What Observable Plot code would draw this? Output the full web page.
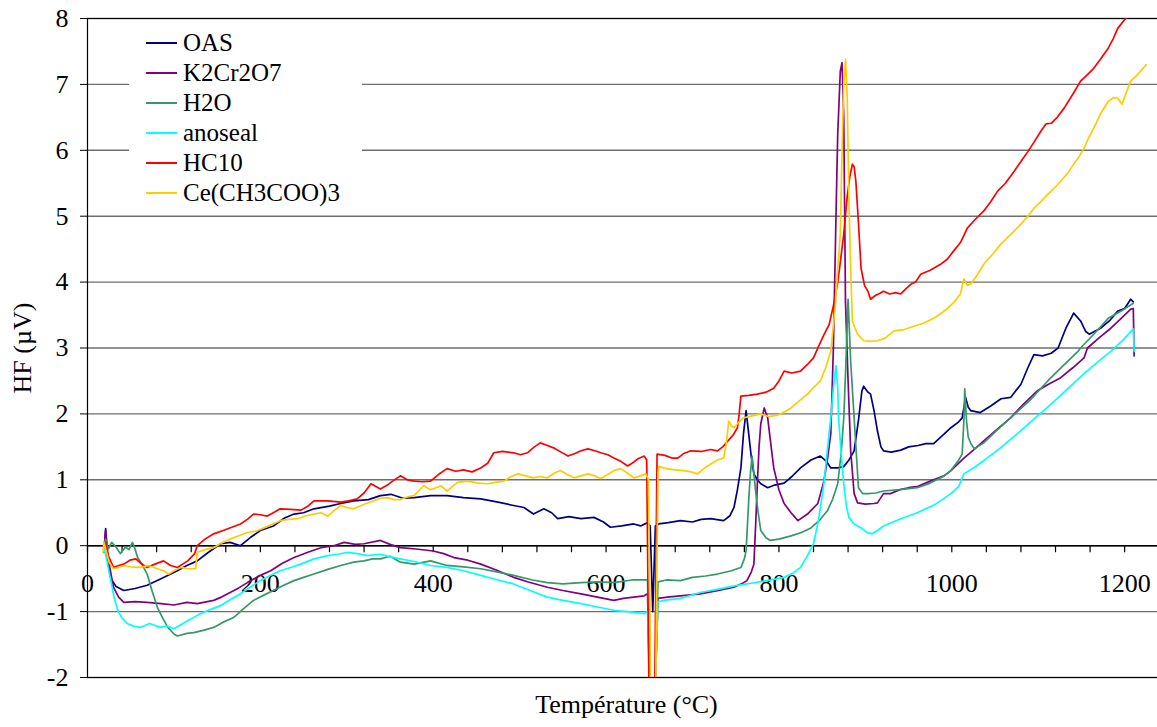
<!DOCTYPE html>
<html><head><meta charset="utf-8">
<script src="https://cdn.jsdelivr.net/npm/d3@7"></script>
<script src="https://cdn.jsdelivr.net/npm/@observablehq/plot@0.6"></script>
<style>
body{margin:0;background:#fff;}
#wrap{position:relative;width:1157px;height:727px;font-family:"Liberation Serif","Times New Roman",serif;}
#wrap svg text{font-family:"Liberation Serif","Times New Roman",serif;}
#legend{position:absolute;left:129px;top:27px;width:233px;height:183px;background:#fff;}
.item{position:absolute;left:17px;height:30px;display:flex;align-items:center;font-size:25px;color:#000;white-space:nowrap;}
.sw{width:31px;height:0;border-top:2px solid;margin-right:6px;}
</style></head><body><div id="wrap"></div>
<script>
const seriesNames = ["OAS", "K2Cr2O7", "H2O", "anoseal", "HC10", "Ce(CH3COO)3"];
const seriesColors = ["#000080", "#800080", "#339966", "#00FFFF", "#FF0000", "#FFCC00"];
const yTicks = [-2, -1, 0, 1, 2, 3, 4, 5, 6, 7, 8];
const xLabelTicks = [0, 200, 400, 600, 800, 1000, 1200];
const xMinorTicks = [0,40,80,120,160,200,240,280,320,360,400,440,480,520,560,600,640,680,720,760,800,840,880,920,960,1000,1040,1080,1120,1160,1200];
const xTitle = "Température (°C)";
const yTitle = "HF (µV)";

const oasData = [[19,-0.1],[21,0.26],[23,-0.2],[27,-0.5],[33,-0.62],[42,-0.68],[55,-0.65],[69,-0.6],[85,-0.5],[104,-0.38],[115,-0.3],[127,-0.23],[140,-0.1],[154,0.03],[165,0.05],[177,0.0],[188,0.12],[200,0.23],[215,0.3],[228,0.42],[239,0.48],[250,0.5],[262,0.56],[280,0.6],[293,0.64],[308,0.68],[325,0.7],[339,0.76],[351,0.78],[365,0.72],[378,0.73],[397,0.76],[416,0.76],[435,0.73],[455,0.71],[475,0.66],[493,0.61],[505,0.58],[516,0.48],[528,0.56],[537,0.5],[544,0.41],[557,0.44],[571,0.41],[586,0.43],[597,0.36],[605,0.28],[618,0.3],[632,0.33],[640,0.3],[648,0.35],[651,0.3],[654,-1.0],[657,0.3],[661,0.33],[672,0.35],[686,0.38],[700,0.36],[710,0.4],[721,0.41],[736,0.38],[743,0.45],[748,0.58],[752,0.85],[756,1.18],[759,1.7],[762,2.05],[765,1.7],[768,1.35],[771,1.09],[775,1.0],[779,0.94],[787,0.88],[795,0.92],[806,0.95],[815,1.05],[825,1.18],[837,1.3],[848,1.36],[855,1.28],[860,1.18],[868,1.18],[875,1.2],[881,1.3],[887,1.44],[892,1.9],[896,2.35],[898,2.42],[903,2.33],[906,2.3],[910,2.05],[914,1.74],[918,1.5],[921,1.44],[930,1.42],[941,1.45],[950,1.5],[961,1.52],[970,1.55],[979,1.55],[990,1.68],[999,1.79],[1008,1.88],[1012,1.94],[1016,2.25],[1019,2.1],[1022,2.05],[1033,2.02],[1045,2.12],[1057,2.23],[1068,2.25],[1080,2.45],[1088,2.7],[1095,2.9],[1105,2.88],[1115,2.92],[1123,3.0],[1132,3.3],[1141,3.53],[1149,3.41],[1155,3.25],[1159,3.21],[1172,3.3],[1183,3.42],[1192,3.56],[1200,3.6],[1207,3.74],[1210,3.7]];

const k2cr2o7Data = [[19,-0.1],[21,0.23],[24,-0.2],[30,-0.63],[36,-0.78],[42,-0.86],[55,-0.85],[69,-0.86],[85,-0.88],[100,-0.9],[115,-0.86],[127,-0.88],[146,-0.83],[155,-0.78],[165,-0.71],[175,-0.64],[185,-0.56],[200,-0.45],[212,-0.38],[225,-0.27],[239,-0.18],[255,-0.1],[270,-0.03],[285,0.0],[297,0.05],[310,0.02],[320,0.03],[339,0.08],[350,0.02],[362,-0.03],[380,-0.05],[400,-0.08],[412,-0.12],[424,-0.18],[440,-0.22],[455,-0.28],[475,-0.38],[493,-0.48],[510,-0.55],[532,-0.63],[550,-0.68],[571,-0.73],[590,-0.78],[609,-0.83],[620,-0.8],[632,-0.78],[644,-0.76],[648,-0.73],[651,-2.6],[656,-2.6],[660,-0.8],[671,-0.78],[686,-0.76],[709,-0.73],[730,-0.68],[748,-0.63],[758,-0.57],[763,-0.53],[768,-0.4],[771,-0.28],[773,0.3],[775,0.94],[777,1.5],[779,1.85],[783,2.09],[787,1.94],[791,1.5],[794,1.18],[800,0.85],[806,0.64],[814,0.5],[822,0.38],[833,0.48],[845,0.64],[852,0.98],[856,1.3],[860,1.7],[863,3.0],[866,5.0],[868,6.24],[871,7.2],[873,7.33],[875,6.5],[877,3.7],[880,2.5],[883,1.44],[887,0.79],[891,0.65],[900,0.63],[910,0.64],[914,0.65],[921,0.79],[929,0.79],[940,0.85],[950,0.88],[961,0.9],[975,0.98],[991,1.06],[999,1.14],[1014,1.33],[1025,1.45],[1037,1.59],[1052,1.76],[1068,1.94],[1083,2.15],[1099,2.35],[1112,2.45],[1126,2.55],[1140,2.7],[1153,2.85],[1157,3.0],[1170,3.15],[1184,3.3],[1196,3.45],[1207,3.59],[1210,3.6],[1211,2.88]];

const h2oData = [[19,0.03],[21,0.1],[24,-0.05],[28,0.05],[33,-0.02],[38,-0.12],[44,-0.02],[48,-0.06],[52,0.05],[55,-0.05],[58,-0.18],[63,-0.28],[69,-0.43],[75,-0.7],[81,-0.94],[87,-1.1],[93,-1.24],[100,-1.34],[104,-1.37],[115,-1.33],[123,-1.32],[135,-1.28],[146,-1.24],[157,-1.16],[169,-1.09],[181,-0.95],[192,-0.83],[204,-0.75],[215,-0.68],[227,-0.6],[239,-0.53],[250,-0.48],[262,-0.43],[278,-0.36],[293,-0.3],[308,-0.25],[320,-0.23],[330,-0.2],[339,-0.2],[350,-0.16],[362,-0.25],[378,-0.28],[397,-0.23],[416,-0.3],[435,-0.32],[455,-0.35],[475,-0.4],[493,-0.45],[515,-0.52],[532,-0.56],[550,-0.58],[571,-0.56],[590,-0.55],[609,-0.56],[630,-0.52],[648,-0.52],[651,-2.6],[656,-2.6],[660,-0.55],[670,-0.52],[686,-0.53],[700,-0.48],[715,-0.46],[729,-0.43],[745,-0.38],[756,-0.33],[760,-0.2],[762,-0.08],[765,0.68],[767,1.1],[769,1.36],[771,1.1],[773,0.83],[776,0.5],[779,0.23],[785,0.12],[790,0.08],[800,0.1],[814,0.15],[826,0.2],[837,0.27],[848,0.4],[856,0.53],[862,0.7],[868,0.94],[872,1.4],[875,1.94],[877,2.6],[880,3.74],[883,2.8],[887,1.94],[890,1.3],[892,0.88],[897,0.79],[903,0.79],[912,0.8],[921,0.83],[940,0.85],[960,0.88],[975,0.95],[990,1.05],[999,1.14],[1008,1.3],[1012,1.39],[1014,1.9],[1015,2.38],[1017,1.9],[1019,1.65],[1022,1.55],[1026,1.47],[1037,1.56],[1052,1.75],[1068,1.94],[1090,2.2],[1111,2.5],[1128,2.72],[1146,2.95],[1149,3.0],[1165,3.22],[1181,3.45],[1196,3.56],[1210,3.68]];

const anosealData = [[19,-0.03],[22,-0.2],[27,-0.53],[31,-0.8],[35,-0.98],[40,-1.1],[46,-1.18],[53,-1.22],[61,-1.24],[72,-1.18],[84,-1.24],[92,-1.22],[100,-1.26],[108,-1.2],[116,-1.14],[124,-1.08],[131,-1.03],[142,-0.97],[154,-0.91],[165,-0.82],[177,-0.73],[188,-0.63],[200,-0.53],[212,-0.45],[223,-0.38],[235,-0.33],[247,-0.28],[262,-0.2],[278,-0.15],[290,-0.13],[301,-0.1],[312,-0.12],[324,-0.15],[339,-0.13],[350,-0.17],[362,-0.2],[378,-0.24],[397,-0.3],[416,-0.33],[435,-0.38],[455,-0.45],[475,-0.52],[493,-0.58],[512,-0.68],[532,-0.78],[550,-0.83],[571,-0.88],[590,-0.93],[609,-0.98],[625,-1.0],[644,-1.03],[648,-1.0],[651,-2.6],[656,-2.6],[660,-0.85],[667,-0.83],[686,-0.8],[709,-0.71],[730,-0.66],[748,-0.61],[768,-0.57],[787,-0.53],[806,-0.48],[816,-0.42],[825,-0.33],[833,-0.15],[840,0.03],[846,0.4],[852,0.94],[856,1.45],[860,1.94],[863,2.4],[866,2.73],[868,2.4],[869,1.94],[872,1.4],[875,0.94],[878,0.6],[881,0.43],[887,0.33],[895,0.27],[902,0.2],[908,0.18],[914,0.23],[921,0.3],[941,0.41],[960,0.5],[980,0.62],[999,0.79],[1008,0.9],[1014,1.09],[1025,1.18],[1037,1.29],[1056,1.48],[1076,1.7],[1095,1.92],[1115,2.15],[1134,2.38],[1153,2.61],[1170,2.8],[1184,2.95],[1198,3.12],[1210,3.29],[1211,2.95]];

const hc10Data = [[19,-0.03],[21,0.05],[24,-0.15],[30,-0.33],[36,-0.3],[42,-0.28],[49,-0.22],[56,-0.2],[62,-0.27],[69,-0.33],[78,-0.28],[88,-0.23],[96,-0.3],[104,-0.33],[110,-0.28],[116,-0.23],[124,-0.12],[127,0.0],[136,0.1],[146,0.18],[157,0.23],[167,0.28],[177,0.33],[185,0.4],[192,0.48],[200,0.47],[208,0.45],[215,0.5],[223,0.56],[235,0.55],[247,0.54],[255,0.6],[262,0.68],[278,0.68],[293,0.66],[302,0.68],[312,0.71],[320,0.8],[328,0.94],[339,0.86],[347,0.92],[353,0.98],[362,1.06],[370,1.0],[378,0.98],[388,0.97],[397,0.98],[406,1.08],[416,1.17],[426,1.13],[435,1.15],[445,1.12],[455,1.18],[463,1.25],[470,1.41],[480,1.43],[493,1.41],[501,1.38],[509,1.41],[517,1.5],[524,1.56],[532,1.52],[540,1.48],[548,1.42],[556,1.36],[564,1.4],[571,1.44],[579,1.47],[587,1.44],[594,1.41],[602,1.38],[609,1.33],[617,1.28],[625,1.21],[630,1.25],[637,1.32],[644,1.36],[647,1.3],[650,-2.6],[656,-2.6],[659,1.39],[668,1.37],[676,1.33],[683,1.33],[690,1.4],[698,1.44],[710,1.43],[721,1.46],[729,1.44],[735,1.5],[741,1.59],[747,1.68],[752,1.79],[754,2.0],[756,2.27],[765,2.28],[775,2.3],[785,2.33],[794,2.39],[800,2.5],[806,2.65],[815,2.62],[825,2.65],[833,2.75],[840,2.85],[845,3.0],[852,3.2],[858,3.35],[863,3.64],[868,4.0],[871,4.3],[875,4.73],[879,5.3],[882,5.6],[885,5.79],[887,5.75],[889,5.53],[892,4.9],[895,4.21],[899,3.95],[903,3.86],[906,3.74],[912,3.8],[917,3.83],[921,3.86],[928,3.82],[935,3.84],[941,3.82],[947,3.9],[953,3.97],[958,4.0],[964,4.12],[975,4.18],[987,4.27],[995,4.35],[1002,4.47],[1010,4.6],[1018,4.82],[1027,4.95],[1037,5.08],[1045,5.22],[1053,5.38],[1062,5.5],[1072,5.68],[1080,5.83],[1088,5.98],[1095,6.12],[1103,6.29],[1109,6.4],[1115,6.41],[1122,6.5],[1130,6.64],[1140,6.85],[1149,7.05],[1157,7.15],[1164,7.24],[1172,7.38],[1181,7.55],[1187,7.7],[1192,7.85],[1201,8.0],[1210,8.15]];

const ceData = [[18,-0.1],[19,0.05],[21,-0.05],[25,-0.25],[30,-0.35],[36,-0.33],[42,-0.3],[50,-0.32],[61,-0.33],[70,-0.3],[81,-0.35],[88,-0.38],[94,-0.43],[100,-0.38],[108,-0.33],[116,-0.35],[125,-0.35],[127,-0.1],[136,-0.06],[146,-0.03],[155,0.04],[165,0.1],[175,0.15],[185,0.2],[195,0.22],[204,0.27],[213,0.32],[223,0.38],[233,0.4],[243,0.41],[252,0.45],[262,0.48],[270,0.5],[278,0.45],[285,0.53],[293,0.61],[300,0.58],[308,0.56],[320,0.63],[331,0.68],[339,0.72],[347,0.73],[355,0.7],[362,0.7],[370,0.74],[378,0.76],[389,0.91],[397,0.85],[409,0.91],[416,0.83],[428,0.96],[440,0.98],[452,0.95],[463,0.94],[472,0.96],[482,0.98],[490,1.05],[498,1.09],[507,1.06],[516,1.03],[524,1.05],[532,1.03],[540,1.1],[547,1.14],[555,1.08],[563,1.03],[571,1.06],[579,1.09],[587,1.06],[594,1.02],[602,1.08],[609,1.14],[617,1.17],[625,1.1],[632,1.03],[640,1.06],[646,1.09],[649,1.0],[652,-2.6],[657,-2.6],[660,1.1],[661,1.2],[670,1.17],[680,1.15],[690,1.14],[698,1.12],[706,1.09],[714,1.18],[721,1.24],[729,1.3],[736,1.33],[739,1.55],[742,1.89],[745,1.82],[748,1.79],[754,1.88],[759,1.94],[769,1.97],[779,2.0],[788,1.96],[798,1.98],[806,2.03],[814,2.09],[824,2.2],[833,2.3],[840,2.4],[848,2.5],[854,2.7],[860,2.95],[865,3.6],[868,4.2],[871,4.73],[873,6.0],[875,7.0],[877,7.38],[879,6.8],[881,5.23],[883,4.2],[885,3.41],[888,3.3],[891,3.21],[898,3.11],[906,3.1],[914,3.11],[923,3.15],[933,3.26],[945,3.28],[956,3.33],[968,3.38],[979,3.45],[987,3.52],[995,3.6],[1003,3.7],[1010,3.82],[1014,4.05],[1018,3.95],[1022,3.97],[1030,4.12],[1037,4.27],[1047,4.42],[1057,4.58],[1068,4.72],[1080,4.88],[1088,5.0],[1095,5.12],[1103,5.22],[1111,5.33],[1118,5.42],[1126,5.53],[1134,5.65],[1141,5.79],[1147,5.9],[1153,6.03],[1158,6.18],[1164,6.33],[1172,6.55],[1181,6.74],[1187,6.8],[1192,6.79],[1197,6.7],[1202,6.88],[1207,7.05],[1215,7.15],[1225,7.3]];

const seriesData = [oasData, k2cr2o7Data, h2oData, anosealData, hc10Data, ceData];
const rows = seriesData.flatMap((arr, i) => arr.map(([t, v]) => ({series: seriesNames[i], t, v})));

const plot = Plot.plot({
  width: 1157, height: 727,
  marginLeft: 87, marginRight: 0, marginTop: 18, marginBottom: 50,
  style: {fontFamily: "'Liberation Serif', 'Times New Roman', serif", fontSize: "26px", background: "#fff", color: "#000"},
  x: {domain: [0, 1238], axis: null},
  y: {domain: [-2, 8], axis: null},
  color: {domain: seriesNames, range: seriesColors},
  marks: [
    Plot.gridY(yTicks, {stroke: "#6e6e6e", strokeOpacity: 1, strokeWidth: 1.4}),
    Plot.ruleY([yTicks[0], yTicks[yTicks.length - 1]], {stroke: "#000", strokeWidth: 1.2}),
    Plot.axisY(yTicks, {tickSize: 7, tickPadding: 12, tickFormat: d => String(d), label: null, stroke: "#000", fill: "#000", fontVariant: "normal"}),
    Plot.ruleX([0], {stroke: "#000", strokeWidth: 1.2}),
    Plot.ruleY([0], {stroke: "#000", strokeWidth: 1.4}),
    Plot.ruleX(xMinorTicks, {x: d => d, y1: 0, y2: 0, insetBottom: -7, stroke: "#000", strokeWidth: 1.2}),
    Plot.text(xLabelTicks, {x: d => d, y: 0, dy: 38, text: d => String(d), fill: "#000"}),
    Plot.text([yTitle], {frameAnchor: "left", rotate: -90, dx: -65, textAnchor: "middle", text: d => d, fill: "#000"}),
    Plot.text([xTitle], {frameAnchor: "bottom", dy: 35, dx: 4, textAnchor: "middle", text: d => d, fill: "#000"}),
    Plot.line(rows, {x: "t", y: "v", z: "series", stroke: "series", strokeWidth: 1.7, clip: true})
  ]
});

const wrap = document.getElementById("wrap");
wrap.appendChild(plot);
const legend = document.createElement("div");
legend.id = "legend";
seriesNames.forEach((name, i) => {
  const item = document.createElement("div");
  item.className = "item";
  item.style.top = (1 + i * 30) + "px";
  const sw = document.createElement("span");
  sw.className = "sw";
  sw.style.borderTopColor = seriesColors[i];
  const lab = document.createElement("span");
  lab.textContent = name;
  item.appendChild(sw);
  item.appendChild(lab);
  legend.appendChild(item);
});
wrap.appendChild(legend);
</script>
</body></html>
